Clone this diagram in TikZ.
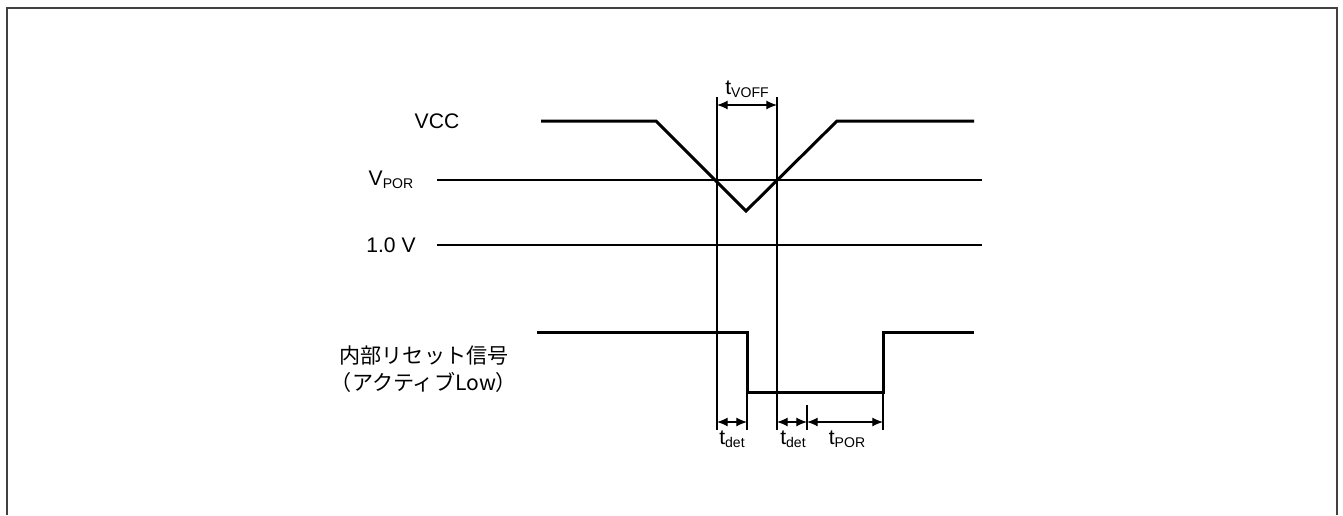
\documentclass[tikz,border=0pt]{standalone}
\usepackage{fontspec}
\setmainfont{Liberation Sans}
\newfontfamily\jpfont{Noto Sans CJK JP}
\usetikzlibrary{arrows.meta}
\newcommand{\subtxt}[1]{\raisebox{-0.3ex}{\fontsize{8}{9}\selectfont #1}}

\begin{document}
\begin{tikzpicture}[x=0.02cm,y=-0.02cm,font=\fontsize{12}{15}\selectfont,
		sig/.style={line width=1.7pt},
		thin line/.style={line width=0.6pt},
		dim/.style={line width=0.6pt,{Latex[length=6pt,width=5pt]}-{Latex[length=6pt,width=5pt]}}]
		\useasboundingbox (0,0) rectangle (1343,515);
		% frame
		\draw[line width=1.2pt, black!75] (7,515) -- (7,8) -- (1337,8) -- (1337,515);
		% level labels
		\node (vcc) at (437,121) {VCC};
		\node (vpor) at (391,180) {V\subtxt{POR}};
		\node (vone) at (391,245) {1.0 V};
		\node[align=center, font=\jpfont\fontsize{12}{15}\selectfont] (rst) at (424,369) {内部リセット信号\\（アクティブLow）};
		% reference levels
		\draw[thin line] (437,180) -- (982,180);
		\draw[thin line] (437,245) -- (982,245);
		% timing markers
		\foreach \x in {717,777} {
			\draw[thin line] (\x,97) -- (\x,430);
		}
		\draw[thin line] (747,392) -- (747,430);
		\draw[thin line] (807,405) -- (807,430);
		\draw[thin line] (883,392) -- (883,430);
		% VCC
		\draw[sig] (541,121) -- (656,121) -- (746,211) -- (837,121) -- (974,121);
		% reset signal
		\draw[sig] (537,332) -- (747,332) -- (747,392) -- (883,392) -- (883,332) -- (974,332);
		% intervals
		\draw[dim] (717,105) -- (777,105);
		\node (tvoff) at (747,89) {t\subtxt{VOFF}};
		\draw[dim] (717,422) -- (747,422);
		\draw[dim] (777,422) -- (807,422);
		\draw[dim] (807,422) -- (883,422);
		\node (tdeta) at (732,439) {t\subtxt{det}};
		\node (tdetb) at (793,439) {t\subtxt{det}};
		\node (tpor) at (847,439) {t\subtxt{POR}};
	\end{tikzpicture}
\end{document}
